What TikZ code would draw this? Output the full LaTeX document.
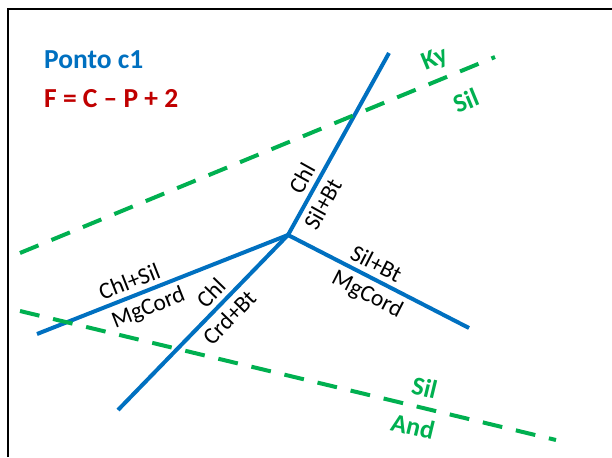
\documentclass[tikz,border=0pt]{standalone}
\usepackage{fontspec}
\setmainfont{Carlito}
\usetikzlibrary{positioning}
\definecolor{phaseblue}{HTML}{0070C0}
\definecolor{reactgreen}{HTML}{00B050}
\definecolor{rulered}{HTML}{C00000}

\begin{document}
\begin{tikzpicture}[x=1pt,y=-1pt,
  univar/.style={line width=4pt,phaseblue},
  react/.style={line width=4pt,reactgreen,dash pattern=on 20pt off 14pt},
  fieldlbl/.style={font=\fontsize{23.5}{25}\selectfont,text=black,inner sep=1pt},
  reactlbl/.style={font=\fontsize{26}{28}\selectfont\bfseries,text=reactgreen,inner sep=1pt},
  titlelbl/.style={font=\fontsize{27.5}{30}\selectfont\bfseries,anchor=west,inner sep=0pt},
]
\useasboundingbox (0,0) rectangle (612,457);
% frame
\draw[line width=2pt] (8,457) -- (8,9) -- (612,9);

% title
\node[titlelbl,text=phaseblue] (title) at (44,60) {Ponto c1};
\node[titlelbl,text=rulered]   (rule)  at (44,99) {F = C -- P + 2};

% invariant point and univariant lines
\coordinate (j)  at (288,235);
\coordinate (nE) at (389,53);
\coordinate (wE) at (37,334);
\coordinate (sE) at (118,410);
\coordinate (eE) at (469,328);
\draw[univar] (j) -- (nE)
  node[fieldlbl,pos=0.27,sloped,above=4pt] (chlN) {Chl}
  node[fieldlbl,pos=0.21,sloped,below=4pt] (silbtN) {Sil+Bt};
\draw[univar] (j) -- (eE)
  node[fieldlbl,pos=0.45,sloped,above=4pt] (silbtE) {Sil+Bt}
  node[fieldlbl,pos=0.48,sloped,below=4pt] (mgcE) {MgCord};
\draw[univar] (wE) -- (j)
  node[fieldlbl,pos=0.39,sloped,above=4pt] (chlsilW) {Chl+Sil}
  node[fieldlbl,pos=0.42,sloped,below=4pt] (mgcW) {MgCord};
\draw[univar] (sE) -- (j)
  node[fieldlbl,pos=0.61,sloped,above=4pt] (chlS) {Chl}
  node[fieldlbl,pos=0.59,sloped,below=4pt] (crdbtS) {Crd+Bt};

% reactions
\coordinate (kyA) at (20,253);
\coordinate (kyB) at (495,57);
\coordinate (anA) at (20,311);
\coordinate (anB) at (556,440);
\draw[react] (kyA) -- (kyB)
  node[reactlbl,pos=0.89,sloped,above=7pt] (ky) {Ky}
  node[reactlbl,pos=0.915,sloped,below=17pt] (silK) {Sil};
\draw[react] (anA) -- (anB)
  node[reactlbl,pos=0.746,sloped,above=8pt] (silA) {Sil}
  node[reactlbl,pos=0.742,sloped,below=8pt] (and) {And};
\end{tikzpicture}
\end{document}
